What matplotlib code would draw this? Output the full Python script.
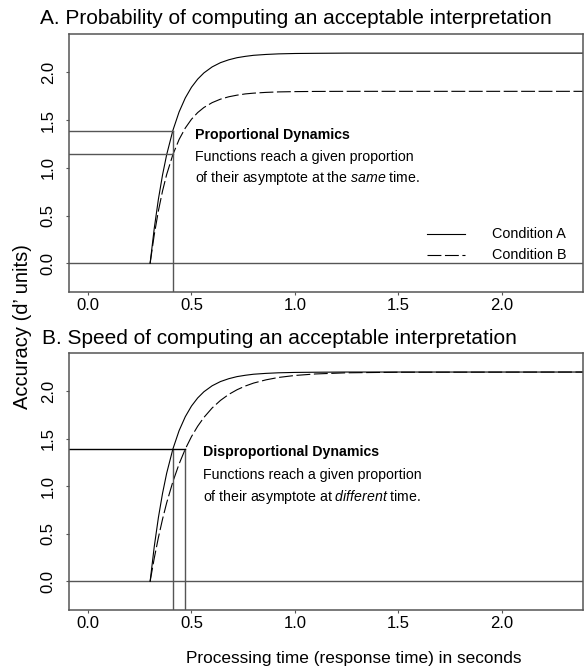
import matplotlib
matplotlib.use("Agg")
import matplotlib.pyplot as plt

plt.rcParams['font.family'] = ['Liberation Sans', 'DejaVu Sans']
plt.rcParams['mathtext.fontset'] = 'custom'
plt.rcParams['mathtext.rm'] = 'Liberation Sans'
plt.rcParams['mathtext.it'] = 'Liberation Sans:italic'
plt.rcParams['mathtext.bf'] = 'Liberation Sans:bold'

# ---- data ----
time_s = [0.30, 0.32, 0.34, 0.36, 0.38, 0.41, 0.44, 0.47, 0.50, 0.53, 0.56, 0.60,
          0.64, 0.68, 0.72, 0.76, 0.80, 0.86, 0.92, 1.00, 1.10, 1.25, 1.50, 2.40]

# Panel A: proportional dynamics
a_condA = [0.0, 0.366, 0.671, 0.925, 1.137, 1.391, 1.584, 1.731, 1.843, 1.928, 1.993, 2.056,
           2.100, 2.130, 2.152, 2.166, 2.177, 2.186, 2.192, 2.196, 2.198, 2.200, 2.200, 2.200]
a_condB = [0.0, 0.299, 0.549, 0.757, 0.930, 1.138, 1.296, 1.416, 1.508, 1.578, 1.631, 1.682,
           1.718, 1.743, 1.760, 1.773, 1.781, 1.789, 1.794, 1.797, 1.799, 1.800, 1.800, 1.800]

# Panel B: disproportional dynamics
b_condA = a_condA
b_condB = [0.0, 0.244, 0.461, 0.654, 0.826, 1.048, 1.234, 1.391, 1.522, 1.631, 1.723, 1.823,
           1.902, 1.965, 2.014, 2.053, 2.084, 2.118, 2.143, 2.164, 2.180, 2.192, 2.198, 2.200]

a_ref_times = [0.41]
a_ref_levels = [1.39, 1.14]
b_ref_times = [0.41, 0.47]
b_ref_levels = [1.39]

xticks = [0.0, 0.5, 1.0, 1.5, 2.0]
yticks = [0.0, 0.5, 1.0, 1.5, 2.0]
xtick_labels = ["0.0", "0.5", "1.0", "1.5", "2.0"]
ytick_labels = ["0.0", "0.5", "1.0", "1.5", "2.0"]

titles = ["A. Probability of computing an acceptable interpretation",
          "B. Speed of computing an acceptable interpretation"]
legend_labels = ["Condition A", "Condition B"]

# ---- figure ----
W, H = 587, 669
fig = plt.figure(figsize=(W / 100, H / 100), dpi=100)

def fx(px):
    return px / W

def fy(py):
    return 1 - py / H

axA = fig.add_axes([fx(69), fy(292), fx(583) - fx(69), fy(34) - fy(292)])
axB = fig.add_axes([fx(69), fy(610), fx(583) - fx(69), fy(353) - fy(610)])

GRAY = "#555555"
DASH = (0, (12.5, 3.2))
TXT = 10.2

def style(ax):
    ax.set_xlim(-0.092, 2.392)
    ax.set_ylim(-0.3, 2.4)
    ax.set_xticks(xticks)
    ax.set_xticklabels(xtick_labels)
    ax.set_yticks(yticks)
    ax.set_yticklabels(ytick_labels, rotation=90, va='center')
    for s in ax.spines.values():
        s.set_color(GRAY)
        s.set_linewidth(1.1)
    ax.tick_params(axis='x', length=2.5, width=0.8, color=GRAY, labelsize=12, pad=2)
    ax.tick_params(axis='y', length=2.5, width=0.8, color=GRAY, labelsize=12, pad=7)
    ax.axhline(0.0, color=GRAY, lw=1.0)

# Panel A
style(axA)
axA.plot(time_s, a_condA, color='black', lw=0.8)
axA.plot(time_s, a_condB, color='black', lw=0.8, linestyle=DASH)
ylo = axA.get_ylim()[0]
xlo = axA.get_xlim()[0]
for t in a_ref_times:
    axA.plot([t, t], [ylo, max(a_ref_levels)], color=GRAY, lw=1.0)
for lv in a_ref_levels:
    axA.plot([xlo, a_ref_times[0]], [lv, lv], color=GRAY, lw=1.0)

axA.text(0.245, 0.609, "Proportional Dynamics", transform=axA.transAxes,
         fontsize=TXT, fontweight='bold', va='center', ha='left')
axA.text(0.245, 0.523, "Functions reach a given proportion", transform=axA.transAxes,
         fontsize=TXT, va='center', ha='left')
axA.text(0.245, 0.442, "of their asymptote at the $\\it{same}$ time.", transform=axA.transAxes,
         fontsize=TXT, va='center', ha='left')

# legend
axA.plot([0.697, 0.770], [0.225, 0.225], transform=axA.transAxes, color='black', lw=0.8)
axA.plot([0.697, 0.770], [0.143, 0.143], transform=axA.transAxes, color='black', lw=0.8,
         linestyle=DASH)
axA.text(0.823, 0.225, legend_labels[0], transform=axA.transAxes, fontsize=10.4, va='center')
axA.text(0.823, 0.143, legend_labels[1], transform=axA.transAxes, fontsize=10.4, va='center')

# Panel B
style(axB)
axB.plot(time_s, b_condA, color='black', lw=0.8)
axB.plot(time_s, b_condB, color='black', lw=0.8, linestyle=DASH)
ylo = axB.get_ylim()[0]
for t in b_ref_times:
    axB.plot([t, t], [ylo, b_ref_levels[0]], color=GRAY, lw=1.0)
axB.plot([axB.get_xlim()[0], max(b_ref_times)], [b_ref_levels[0]] * 2, color='black', lw=1.0)

axB.text(0.261, 0.615, "Disproportional Dynamics", transform=axB.transAxes,
         fontsize=TXT, fontweight='bold', va='center', ha='left')
axB.text(0.261, 0.525, "Functions reach a given proportion", transform=axB.transAxes,
         fontsize=TXT, va='center', ha='left')
axB.text(0.261, 0.440, "of their asymptote at $\\it{different}$ time.", transform=axB.transAxes,
         fontsize=TXT, va='center', ha='left')

# titles and axis labels
fig.text(fx(40), fy(19), titles[0], fontsize=15, va='center', ha='left')
fig.text(fx(42), fy(338), titles[1], fontsize=15, va='center', ha='left')
fig.text(fx(23), fy(327), "Accuracy (d\u2019 units)", rotation=90, fontsize=14.5,
         va='center', ha='center')
fig.text(fx(354), fy(658), "Processing time (response time) in seconds", fontsize=12.4,
         va='center', ha='center')

fig.savefig("out.png", dpi=100)
